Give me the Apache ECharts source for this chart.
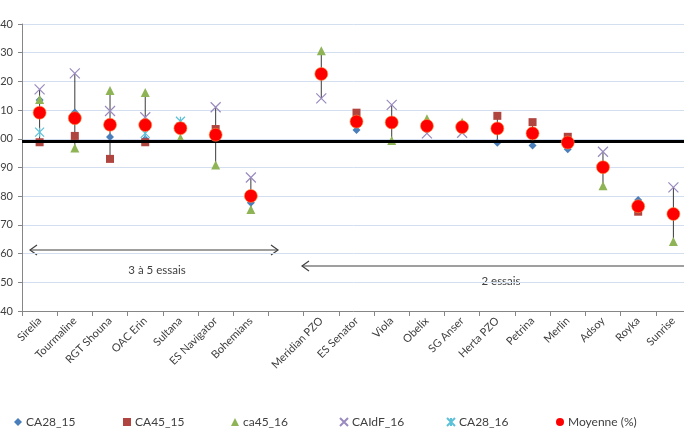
<!DOCTYPE html>
<html>
<head>
<meta charset="utf-8">
<script src="https://cdn.jsdelivr.net/npm/echarts@6/dist/echarts.min.js"></script>
<style>
html,body{margin:0;padding:0;background:#fff;}
#c{width:684px;height:431px;}
</style>
</head>
<body>
<div id="c"></div>
<script>
const categories = ['Sirelia','Tourmaline','RGT Shouna','OAC Erin','Sultana','ES Navigator','Bohemians','','Meridian PZO','ES Senator','Viola','Obelix','SG Anser','Herta PZO','Petrina','Merlin','Adsoy','Royka','Sunrise'];

const CA28_15  = [113.5, 109.2, 100.6, 99.8, null, null, 77.7, null, null, 103.1, null, null, null, 98.6, 97.7, 96.4, null, 78.7, null];
const CA45_15  = [98.8, 101.0, 93.0, 98.8, 104.3, 103.4, null, null, null, 109.1, null, null, null, 108.0, 105.8, 100.7, null, 74.6, null];
const ca45_16  = [113.7, 96.8, 116.8, 116.1, 100.3, 90.9, 75.4, null, 130.7, null, 99.4, 107.0, 105.8, null, null, null, 83.6, null, 64.2];
const CAIdF_16 = [117.2, 122.8, 109.7, 107.5, null, 111.0, 86.5, null, 114.1, null, 111.8, 101.9, 102.1, null, null, null, 95.5, null, 83.1];
const CA28_16  = [102.3, null, null, 101.9, 106.1, null, null, null, null, null, null, null, null, null, null, null, null, null, null];
const Moyenne  = [109.1, 107.2, 104.9, 104.8, 103.7, 101.4, 80.1, null, 122.6, 106.0, 105.7, 104.5, 104.1, 103.6, 101.9, 98.7, 90.1, 76.5, 73.8];

const yTicks = {min: 40, max: 140, interval: 10};
const baseLine = 99.1;

const seriesDefs = [
  {name:'CA28_15', data:CA28_15},
  {name:'CA45_15', data:CA45_15},
  {name:'ca45_16', data:ca45_16},
  {name:'CAIdF_16', data:CAIdF_16},
  {name:'CA28_16', data:CA28_16}
];

// high-low ranges computed from the data
const ranges = categories.map((c, i) => {
  const vals = seriesDefs.map(s => s.data[i]).filter(v => v != null);
  if (vals.length < 2) return [i, null, null];
  return [i, Math.min(...vals), Math.max(...vals)];
}).filter(r => r[1] != null);

const FONT = 'Lato, "Open Sans", sans-serif';
const TXT = '#404040';
const crossPath = 'path://M0,0L10,10M10,0L0,10';
const starPath = 'path://M0,0L10,10M10,0L0,10M5,0L5,10';

const styles = {
  'CA28_15': {symbol:'diamond', symbolSize:8, itemStyle:{color:'#4A7EBB', opacity:1}},
  'CA45_15': {symbol:'rect', symbolSize:8, itemStyle:{color:'#B0443F', opacity:1}},
  'ca45_16': {symbol:'triangle', symbolSize:9, itemStyle:{color:'#8FB456', opacity:1}},
  'CAIdF_16': {symbol:crossPath, symbolSize:10, itemStyle:{color:'rgba(0,0,0,0)', borderColor:'#9A8ABF', borderWidth:1.2, opacity:1}},
  'CA28_16': {symbol:starPath, symbolSize:9, itemStyle:{color:'rgba(0,0,0,0)', borderColor:'#5CC0D8', borderWidth:1.2, opacity:1}},
  'Moyenne (%)': {symbol:'circle', symbolSize:13, itemStyle:{color:'#FF0000', borderColor:'#FF8C3A', borderWidth:0.6, opacity:1}}
};

const series = [{
  type:'custom',
  name:'hl',
  z:1,
  data: ranges,
  encode:{x:0, y:[1,2]},
  silent:true,
  renderItem: function(params, api){
    const x = api.value(0);
    const p1 = api.coord([x, api.value(1)]);
    const p2 = api.coord([x, api.value(2)]);
    return {type:'line', shape:{x1:p1[0], y1:p1[1], x2:p2[0], y2:p2[1]}, style:{stroke:'#3a3a3a', lineWidth:1}};
  },
  markLine:{
    silent:true, symbol:'none', label:{show:false},
    lineStyle:{color:'#000', width:3, type:'solid'},
    data:[{yAxis: baseLine}]
  }
}];

seriesDefs.concat([{name:'Moyenne (%)', data:Moyenne}]).forEach((s, k) => {
  const st = styles[s.name];
  series.push({
    type:'scatter', name:s.name, z:2 + k,
    data: s.data,
    symbol: st.symbol, symbolSize: st.symbolSize,
    itemStyle: st.itemStyle
  });
});

const legendNames = ['CA28_15','CA45_15','ca45_16','CAIdF_16','CA28_16','Moyenne (%)'];
const legendLeft = [14, 123, 231, 339, 446, 556];
const legends = legendNames.map((n, i) => {
  const lg = {
    data:[n], left: legendLeft[i], top: 416, padding:0,
    itemWidth: 8, itemHeight: 8, itemGap: 4,
    textStyle:{fontFamily:FONT, fontSize:12, color:TXT, padding:[0,0,0,-1]},
    selectedMode:false
  };
  if (n === 'Moyenne (%)') lg.itemStyle = {color:'#FF0000', borderWidth:0};
  return lg;
});

const chart = echarts.init(document.getElementById('c'));
chart.setOption({
  animation:false,
  backgroundColor:'#fff',
  grid:{left:22, right:-7, top:24, bottom:120, containLabel:false, outerBoundsMode:'none'},
  legend: legends,
  xAxis:{
    type:'category', data:categories, boundaryGap:true,
    axisLine:{lineStyle:{color:'#868686'}},
    axisTick:{show:true, alignWithLabel:false, length:5, lineStyle:{color:'#868686'}},
    axisLabel:{rotate:45, interval:0, fontFamily:FONT, fontSize:11, color:TXT, margin:8},
    splitLine:{show:false}
  },
  yAxis:{
    type:'value', min:yTicks.min, max:yTicks.max, interval:yTicks.interval,
    axisLine:{show:true, lineStyle:{color:'#868686'}},
    axisTick:{show:true, length:4, lineStyle:{color:'#868686'}},
    axisLabel:{fontFamily:FONT, fontSize:11, color:TXT, margin:9},
    splitLine:{lineStyle:{color:'#D3DEF0', width:1}}
  },
  series: series,
  graphic:[
    // "3 à 5 essais" double arrow
    {type:'line', shape:{x1:30, y1:250, x2:278, y2:250}, style:{stroke:'#404040', lineWidth:1.2}},
    {type:'polyline', shape:{points:[[37,245],[30,250],[37,255]]}, style:{stroke:'#404040', lineWidth:1.2, fill:null}},
    {type:'polyline', shape:{points:[[271,245],[278,250],[271,255]]}, style:{stroke:'#404040', lineWidth:1.2, fill:null}},
    {type:'text', x:157, y:270, style:{text:'3 à 5 essais', fontFamily:FONT, fontSize:11.5, fill:TXT, align:'center', verticalAlign:'middle'}},
    // "2 essais" arrow
    {type:'line', shape:{x1:302, y1:266, x2:684, y2:266}, style:{stroke:'#404040', lineWidth:1.2}},
    {type:'polyline', shape:{points:[[309,261],[302,266],[309,271]]}, style:{stroke:'#404040', lineWidth:1.2, fill:null}},
    {type:'text', x:501, y:281, style:{text:'2 essais', fontFamily:FONT, fontSize:11.5, fill:TXT, align:'center', verticalAlign:'middle'}}
  ]
});
</script>
</body>
</html>
